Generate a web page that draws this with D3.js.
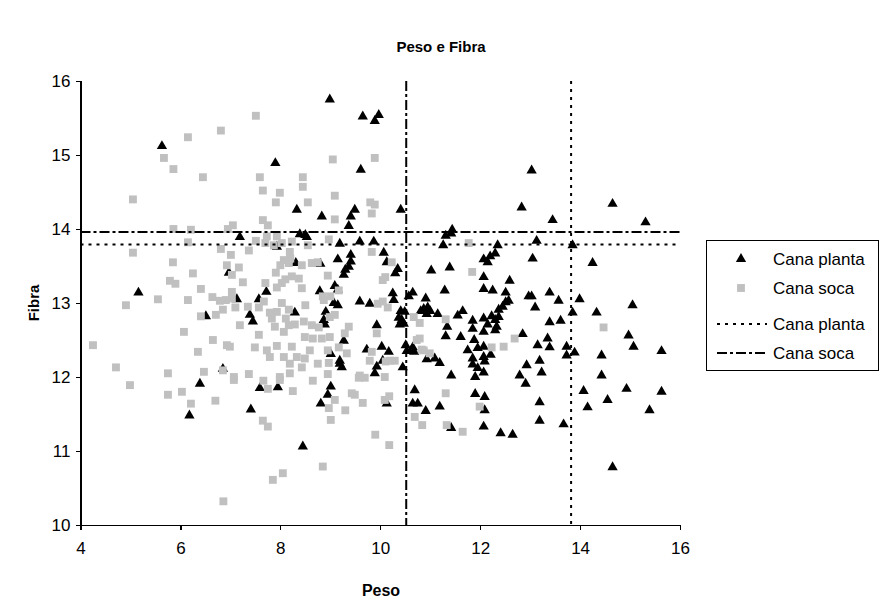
<!DOCTYPE html>
<html>
<head>
<meta charset="utf-8">
<script src="https://cdn.jsdelivr.net/npm/d3@7"></script>
<style>
  html, body { margin: 0; padding: 0; background: #fff; }
  svg { display: block; font-family: "Liberation Sans", Arial, sans-serif; }
</style>
</head>
<body>
<svg id="chart" width="880" height="605"></svg>
<script>
// Cana planta: [peso, fibra]
const plantaPoints = [
  [5.63,15.12],
  [8.99,15.75],[9.65,15.52],[9.89,15.46],[9.97,15.54],[7.9,14.89],[9.61,14.8],[8.33,14.26],[9.49,14.26],[8.83,14.17],[9.41,14.17],[9.37,14.04],
  [10.41,14.26],[12.83,14.29],[13.03,14.79],[11.44,13.99],
  [13.45,14.12],[14.65,14.34],[15.31,14.09],
  [6.97,13.41],[5.16,13.14],[6.51,12.82],[6.85,12.11],
  [6.39,11.91],[6.18,11.48],
  [7.59,11.85],[7.95,11.86],[9.01,11.87],[8.95,11.76],[8.81,11.64],[7.41,11.56],[8.45,11.06],
  [10.13,11.64],[10.69,11.82],[10.65,11.64],[10.75,11.64],[10.91,11.54],[11.19,11.6],[11.42,11.31],[11.9,11.77],[12.09,11.73],[12.09,11.55],[12.07,11.33],[12.41,11.24],[12.65,11.22],[12.91,11.91],
  [14.07,11.81],[14.93,11.84],[15.63,11.80],[14.55,11.69],[14.15,11.59],[15.39,11.55],[13.19,11.66],[13.19,11.41],[13.67,11.36],[14.65,10.78],
  [13.13,13.84],[13.85,13.78],[13.05,13.60],[14.25,13.54],[13.39,13.14],[13.57,13.03],[13.03,13.09],[13.1,12.94],[13.99,13.05],[13.85,12.87],[14.33,12.87],[15.05,12.97],[13.39,12.74],[13.61,12.76],[14.97,12.56],[15.07,12.41],[15.63,12.35],[13.35,12.52],[13.15,12.43],[13.39,12.40],[13.73,12.41],[13.73,12.29],[13.89,12.33],[14.43,12.29],[13.19,12.22],[13.23,12.06],[14.43,12.02],
  [11.42,13.94],[11.31,13.91],[11.26,13.78],[12.35,13.78],[10.07,13.68],[12.07,13.59],[12.15,13.55],[12.2,13.63],[12.3,13.67],[10.13,13.55],[10.35,13.46],[10.3,13.40],[11.02,13.44],[11.39,13.48],[12.07,13.35],[12.59,13.30],[12.07,13.19],[12.25,13.17],[11.29,13.17],[10.25,13.13],[10.27,13.04],[10.65,13.14],[10.57,13.09],[12.51,13.14],[12.57,13.03],[12.51,13.01],[12.97,13.09],[10.91,13.06],[12.45,12.95],[12.37,12.91],[10.87,12.92],[10.95,12.94],[10.93,12.85],[11.0,12.89],[10.81,12.89],[11.15,12.85],[10.41,12.89],[10.49,12.88],[10.37,12.80],[10.43,12.77],[10.39,12.71],[10.47,12.72],[11.65,12.89],[11.55,12.83],[11.85,12.76],[11.85,12.65],[12.07,12.79],[12.23,12.82],[12.37,12.81],[12.3,12.77],[12.15,12.71],[12.33,12.68],[12.3,12.63],[12.07,12.61],[11.34,12.68],[11.31,12.55],[11.61,12.54],[12.85,12.58],[11.88,12.50],[12.07,12.41],[11.95,12.39],[11.75,12.36],[10.51,12.43],[10.65,12.40],[10.68,12.34],[10.61,12.35],[10.53,12.35],[10.93,12.24],[11.09,12.25],[11.19,12.19],[10.03,12.41],[10.17,12.34],[10.05,12.22],[10.45,12.13],[11.85,12.25],[11.85,12.17],[12.07,12.27],[12.09,12.21],[12.21,12.30],[11.95,12.12],[12.07,12.06],[11.9,12.0],[11.42,12.02],[12.93,12.16],[12.79,12.02],
  [7.19,13.89],[8.39,13.93],[8.5,13.92],[8.53,13.89],[9.19,13.80],[9.59,13.83],[9.87,13.83],[7.93,13.76],[9.41,13.65],[9.41,13.56],[9.37,13.49],[9.3,13.45],[9.27,13.38],[9.15,13.59],[8.8,13.53],[8.31,13.54],[7.72,13.15],[8.79,13.16],[9.09,13.23],[9.15,13.18],[7.13,13.05],[7.57,13.05],[9.07,13.0],[9.15,12.97],[9.59,13.02],[9.79,12.99],[8.29,12.87],[8.91,12.88],[7.39,12.84],[7.45,12.75],[8.87,12.77],[8.89,12.71],[9.27,12.49],[9.93,12.7],[9.01,12.31],[9.73,12.37],[9.19,12.22],[9.23,12.13],[9.19,12.18],[9.93,12.14],[9.89,12.05]
];

// Cana soca: [peso, fibra]
const socaPoints = [
  [6.15,15.24],[6.81,15.33],[5.67,14.96],[5.86,14.81],[6.45,14.70],[5.05,14.40],[5.86,14.0],[6.21,13.99],[6.95,14.0],
  [7.51,15.53],[9.05,14.94],[9.89,14.96],[7.59,14.70],[8.45,14.70],[8.45,14.57],[7.65,14.52],[7.99,14.49],[9.09,14.45],[7.91,14.36],[8.55,14.36],[9.8,14.36],[9.89,14.33],[9.83,14.21],[9.09,14.13],[7.65,14.12],[7.75,14.05],[7.05,14.05],
  [6.15,13.82],[5.05,13.68],[6.81,13.73],[5.85,13.55],[6.93,13.51],[6.25,13.40],[5.79,13.30],[5.9,13.26],[6.41,13.19],[5.55,13.05],[6.15,13.04],[6.64,13.08],[6.79,13.03],[6.91,13.04],[4.91,12.97],[6.85,12.91],[6.41,12.82],[6.71,12.84],[6.07,12.61],[6.65,12.5],[4.25,12.43],[6.93,12.43],[6.35,12.34],[4.71,12.13],[5.75,12.05],[6.47,12.07],[6.85,12.09],
  [4.99,11.89],[5.75,11.76],[6.03,11.80],[6.21,11.64],[6.70,11.68],[6.86,10.32],
  [7.75,11.84],[7.99,11.96],[7.66,11.95],[7.07,11.96],[8.25,11.81],[8.65,11.95],[9.09,11.69],[8.97,11.58],[9.43,11.78],[9.49,11.76],[9.65,11.65],[9.3,11.55],[7.65,11.41],[7.75,11.33],[9.01,11.42],[9.9,11.22],[8.85,10.79],[8.05,10.70],[7.85,10.61],[9.57,11.99],[9.69,11.99],
  [10.18,11.74],[10.09,11.69],[10.69,11.46],[10.84,11.35],[11.31,11.78],[11.33,11.35],[11.65,11.26],[11.99,11.6],[10.18,11.08],
  [14.47,12.67],
  [11.77,13.81],[10.23,13.55],[10.1,13.35],[10.05,13.31],[11.84,13.42],[10.05,13.02],[10.15,12.94],[10.67,12.81],[10.79,12.73],[11.31,12.78],[10.79,12.52],[10.73,12.50],[12.69,12.52],[12.47,12.41],[12.23,12.40],[10.83,12.37],[10.99,12.32],[10.87,12.36],[10.19,12.22],[10.29,12.22],[10.11,12.21],[10.09,12.0],
  [7.51,13.84],[7.73,13.90],[7.93,13.90],[7.7,13.81],[7.87,13.78],[8.03,13.81],[8.23,13.83],[8.55,13.78],[8.97,13.86],[7.37,13.71],[8.19,13.69],[9.83,13.69],[8.07,13.58],[8.2,13.60],[8.17,13.54],[8.43,13.51],[8.63,13.54],[8.75,13.55],[8.0,13.51],[7.01,13.65],[7.17,13.48],[7.03,13.38],[7.91,13.41],[8.1,13.32],[8.23,13.36],[8.37,13.33],[8.03,13.27],[8.43,13.2],[7.7,13.27],[7.25,13.28],[8.95,13.37],[7.03,13.15],[7.93,13.21],[9.17,13.17],[7.67,13.02],[7.03,13.06],[7.1,12.94],[7.35,12.95],[7.57,12.94],[8.03,13.0],[8.5,12.97],[8.85,13.09],[9.0,13.09],[8.87,13.04],[9.95,12.99],[7.79,12.87],[7.93,12.88],[8.17,12.91],[7.83,12.79],[8.11,12.79],[7.89,12.68],[8.17,12.70],[8.29,12.71],[8.07,12.61],[8.47,12.75],[8.63,12.70],[8.77,12.67],[9.09,12.84],[8.99,12.81],[7.19,12.70],[7.57,12.57],[8.49,12.54],[8.65,12.52],[8.83,12.52],[8.99,12.54],[9.37,12.68],[9.29,12.59],[9.93,12.59],[7.49,12.4],[7.73,12.36],[7.93,12.42],[8.23,12.41],[8.59,12.36],[8.95,12.36],[9.17,12.4],[9.33,12.32],[9.83,12.34],[8.07,12.27],[8.33,12.27],[7.79,12.27],[8.49,12.25],[8.75,12.18],[8.97,12.19],[8.43,12.13],[8.19,12.18],[9.79,12.22],[7.07,12.0],[7.37,12.04],[7.99,12.0],[8.19,12.05],[8.95,12.04],[9.59,12.02],[6.99,12.41]
];

// Reference lines: [peso, fibra] for each group
const plantaRef = [13.82, 13.79];
const socaRef = [10.52, 13.96];

const xTicks = [4, 6, 8, 10, 12, 14, 16];
const yTicks = [10, 11, 12, 13, 14, 15, 16];
const legendLabels = ["Cana planta", "Cana soca", "Cana planta", "Cana soca"];

const svg = d3.select("#chart");
const plot = { left: 80.5, right: 680, top: 81, bottom: 525 };

const x = d3.scaleLinear().domain([4, 16]).range([plot.left, plot.right]);
const y = d3.scaleLinear().domain([10, 16]).range([plot.bottom, plot.top]);

// Title and axis titles
svg.append("text").attr("x", 441).attr("y", 52).attr("text-anchor", "middle")
  .attr("font-size", 15).attr("font-weight", "bold").text("Peso e Fibra");
svg.append("text").attr("x", 381).attr("y", 596).attr("text-anchor", "middle")
  .attr("font-size", 16).attr("font-weight", "bold").text("Peso");
svg.append("text").attr("transform", "translate(39,303) rotate(-90)").attr("text-anchor", "middle")
  .attr("font-size", 15).attr("font-weight", "bold").text("Fibra");

// Axes
const xAxis = svg.append("g").attr("transform", `translate(0,${plot.bottom})`)
  .call(d3.axisBottom(x).tickValues(xTicks).tickSizeOuter(0).tickSize(5).tickPadding(12).tickFormat(d3.format("d")));
const yAxis = svg.append("g").attr("transform", `translate(${plot.left},0)`)
  .call(d3.axisLeft(y).tickValues(yTicks).tickSizeOuter(0).tickSize(5).tickPadding(5).tickFormat(d3.format("d")));
[xAxis, yAxis].forEach(g => {
  g.selectAll("path, line").attr("stroke", "#000").attr("stroke-width", 1.2).attr("shape-rendering", "crispEdges");
  g.selectAll("text").attr("font-size", 17).attr("fill", "#000")
    .attr("font-family", "'Liberation Sans', Arial, sans-serif");
});

// Markers
const triangle = d3.symbol().type(d3.symbolTriangle).size(46);
const square = d3.symbol().type(d3.symbolSquare).size(62);

svg.append("g").selectAll("path").data(plantaPoints).join("path")
  .attr("d", triangle)
  .attr("transform", d => `translate(${x(d[0])},${y(d[1])})`)
  .attr("fill", "#000");

svg.append("g").selectAll("path").data(socaPoints).join("path")
  .attr("d", square)
  .attr("transform", d => `translate(${x(d[0])},${y(d[1])})`)
  .attr("fill", "#c0c0c0");

// Reference lines
const dotted = "3,5";
const dashDot = "10,3,3,3";
function refLines(ref, dash) {
  const g = svg.append("g").attr("stroke", "#000").attr("stroke-width", 2).attr("stroke-dasharray", dash);
  g.append("line").attr("x1", x(ref[0])).attr("x2", x(ref[0])).attr("y1", y(16)).attr("y2", y(10));
  g.append("line").attr("x1", x(4)).attr("x2", x(16)).attr("y1", y(ref[1])).attr("y2", y(ref[1]));
}
refLines(plantaRef, dotted);
refLines(socaRef, dashDot);

// Legend
const legend = svg.append("g").attr("transform", "translate(706,240)");
legend.append("rect").attr("x", 0.5).attr("y", 0.5).attr("width", 172).attr("height", 130)
  .attr("fill", "#fff").attr("stroke", "#000").attr("stroke-width", 1);
const rowY = [19, 48, 84, 113];
legend.append("path").attr("d", triangle).attr("transform", `translate(35,${rowY[0]})`).attr("fill", "#000");
legend.append("path").attr("d", square).attr("transform", `translate(35,${rowY[1]})`).attr("fill", "#c0c0c0");
legend.append("line").attr("x1", 11).attr("x2", 61).attr("y1", rowY[2]).attr("y2", rowY[2])
  .attr("stroke", "#000").attr("stroke-width", 2).attr("stroke-dasharray", dotted);
legend.append("line").attr("x1", 11).attr("x2", 61).attr("y1", rowY[3]).attr("y2", rowY[3])
  .attr("stroke", "#000").attr("stroke-width", 2).attr("stroke-dasharray", dashDot);
legend.selectAll("text.lbl").data(legendLabels).join("text").attr("class", "lbl")
  .attr("x", 67).attr("y", (d, i) => rowY[i] + 6).attr("font-size", 17).text(d => d);
</script>
</body>
</html>
